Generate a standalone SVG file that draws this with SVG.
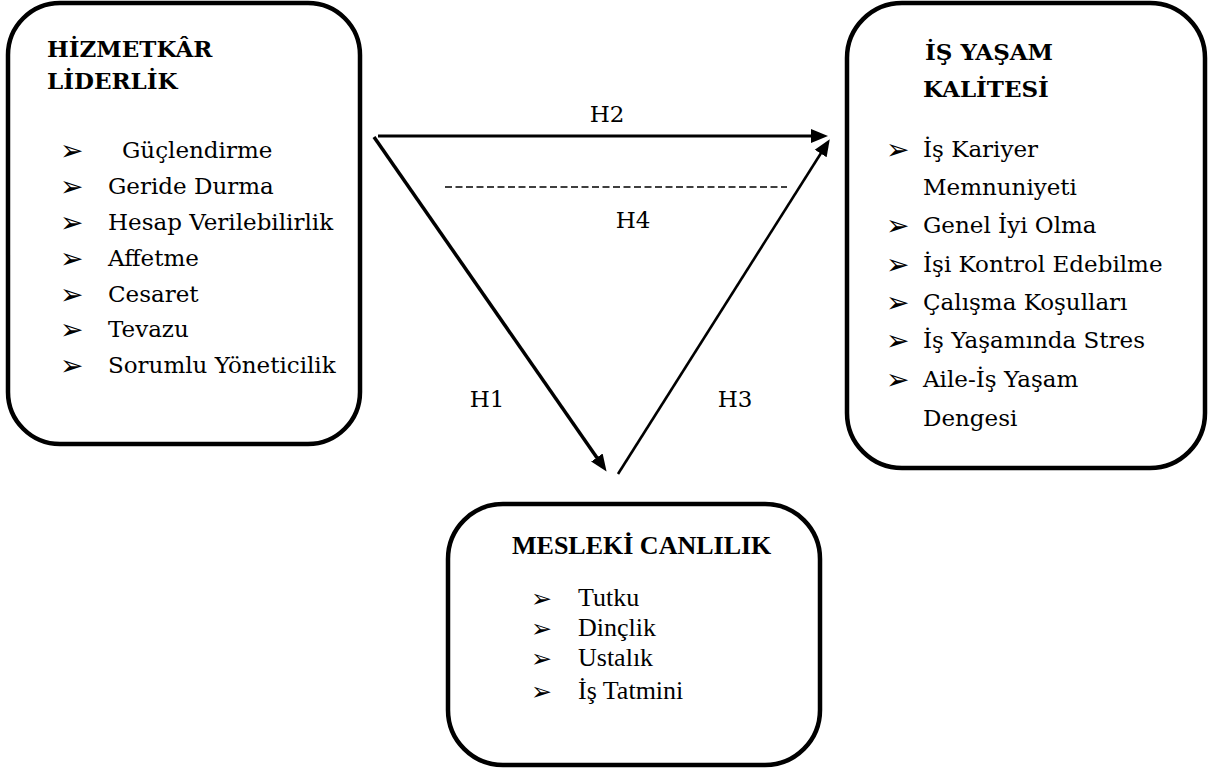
<svg xmlns="http://www.w3.org/2000/svg" width="1208" height="773" viewBox="0 0 1208 773">
<style>
.box{fill:#fff;stroke:#000;stroke-width:4.5}
.t{font-family:"DejaVu Serif","Liberation Serif",serif;font-size:23px;fill:#000}
.tb{font-family:"DejaVu Serif","Liberation Serif",serif;font-size:23px;font-weight:bold;fill:#000}
.tm{font-family:"Liberation Serif","Times New Roman",serif;font-size:26px;fill:#000}
.tmb{font-family:"Liberation Serif","Times New Roman",serif;font-size:26px;font-weight:bold;fill:#000}
.bul{font-family:"DejaVu Sans",sans-serif;font-size:28px;fill:#000}
.bulm{font-family:"DejaVu Sans",sans-serif;font-size:25px;fill:#000}
.lbl{font-family:"DejaVu Serif","Liberation Serif",serif;font-size:23px;fill:#000;text-anchor:middle}
.c{stroke:#000;fill:none}
</style>
<defs>
<marker id="ah" markerUnits="userSpaceOnUse" markerWidth="18" markerHeight="16" viewBox="0 0 18 16" refX="9" refY="8" orient="auto">
<path d="M0,1 L17,8 L0,15 z" fill="#000"/>
</marker>
</defs>
<rect width="1208" height="773" fill="#fff"/>
<g id="connectors">
<line class="c" x1="378" y1="136" x2="820" y2="136" stroke-width="3.2" marker-end="url(#ah)"/>
<line class="c" x1="374" y1="137" x2="602" y2="465" stroke-width="3.5" marker-end="url(#ah)"/>
<line class="c" x1="618" y1="474" x2="825.5" y2="146" stroke-width="2.6" marker-end="url(#ah)"/>
<line class="c" x1="445" y1="187" x2="787" y2="187" stroke-width="1.3" stroke-dasharray="7,3.5"/>
<text class="lbl" x="607" y="122">H2</text>
<text class="lbl" x="633" y="228">H4</text>
<text class="lbl" x="487" y="407">H1</text>
<text class="lbl" x="735" y="407">H3</text>
</g>
<g id="hizmetkar-liderlik">
<rect class="box" x="8" y="3" width="352" height="441" rx="52" ry="52"/>
<text class="tb" x="47" y="57">HİZMETKÂR</text>
<text class="tb" x="47" y="89">LİDERLİK</text>
<text class="bul" x="60" y="160">➢</text><text class="t" x="122" y="158">Güçlendirme</text>
<text class="bul" x="60" y="196">➢</text><text class="t" x="108" y="194">Geride Durma</text>
<text class="bul" x="60" y="232">➢</text><text class="t" x="108" y="230">Hesap Verilebilirlik</text>
<text class="bul" x="60" y="268">➢</text><text class="t" x="108" y="266">Affetme</text>
<text class="bul" x="60" y="304">➢</text><text class="t" x="108" y="302">Cesaret</text>
<text class="bul" x="60" y="339">➢</text><text class="t" x="108" y="337">Tevazu</text>
<text class="bul" x="60" y="375">➢</text><text class="t" x="108" y="373">Sorumlu Yöneticilik</text>
</g>
<g id="is-yasam-kalitesi">
<rect class="box" x="847" y="3" width="358" height="465" rx="55" ry="55"/>
<text class="tb" x="925" y="60">İŞ YAŞAM</text>
<text class="tb" x="923" y="97">KALİTESİ</text>
<text class="bul" x="886" y="159">➢</text><text class="t" x="923" y="157">İş Kariyer</text>
<text class="t" x="923" y="195">Memnuniyeti</text>
<text class="bul" x="886" y="235">➢</text><text class="t" x="923" y="233">Genel İyi Olma</text>
<text class="bul" x="886" y="274">➢</text><text class="t" x="923" y="272">İşi Kontrol Edebilme</text>
<text class="bul" x="886" y="312">➢</text><text class="t" x="923" y="310">Çalışma Koşulları</text>
<text class="bul" x="886" y="350">➢</text><text class="t" x="923" y="348">İş Yaşamında Stres</text>
<text class="bul" x="886" y="389">➢</text><text class="t" x="923" y="387">Aile-İş Yaşam</text>
<text class="t" x="923" y="426">Dengesi</text>
</g>
<g id="mesleki-canlilik">
<rect class="box" x="448" y="504" width="372" height="261" rx="55" ry="55"/>
<text class="tmb" x="512" y="554">MESLEKİ CANLILIK</text>
<text class="bulm" x="531" y="607">➢</text><text class="tm" x="578" y="606">Tutku</text>
<text class="bulm" x="531" y="637">➢</text><text class="tm" x="578" y="636">Dinçlik</text>
<text class="bulm" x="531" y="667">➢</text><text class="tm" x="578" y="666">Ustalık</text>
<text class="bulm" x="531" y="700">➢</text><text class="tm" x="578" y="699">İş Tatmini</text>
</g>
</svg>
